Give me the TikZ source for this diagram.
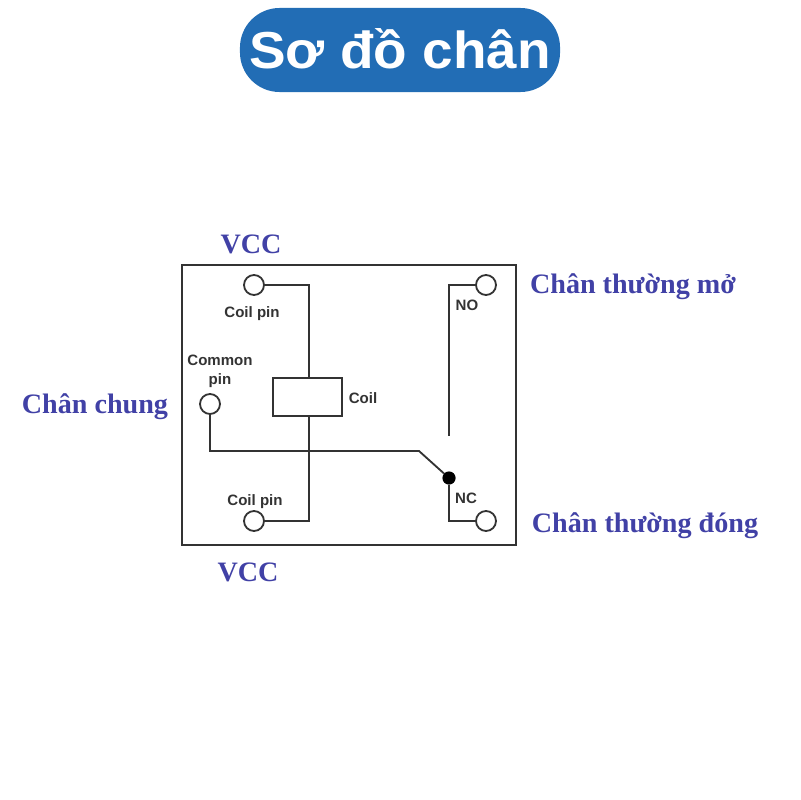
\documentclass[tikz,border=0pt]{standalone}
\usepackage{fontspec}
\usepackage{graphicx}
\setmainfont{Liberation Sans}
\newfontfamily\labelfont{Liberation Serif}
\usepackage{xcolor}
\usetikzlibrary{positioning}
\definecolor{titleblue}{HTML}{226DB5}
\definecolor{labelblue}{HTML}{4141A6}
\definecolor{wiregray}{HTML}{333333}

\begin{document}
\begin{tikzpicture}[x=.025cm,y=-.025cm,
  pin/.style={circle,draw=wiregray,fill=white,line width=1.3pt,minimum size=.5cm,inner sep=0pt},
  wire/.style={draw=wiregray,line width=1.3pt},
  small/.style={font=\fontsize{10.7}{13.5}\selectfont\bfseries,text=wiregray,align=center,inner sep=0pt},
  outer/.style={font=\labelfont\fontsize{20}{24}\selectfont\bfseries,text=labelblue,inner sep=0pt,anchor=base}]

  \useasboundingbox (0,0) rectangle (800,800);

  \node[fill=titleblue,rounded corners=.99cm,minimum width=8cm,minimum height=2.1cm,
    inner sep=0pt,text=white,text depth=2pt,font=\fontsize{37}{46}\selectfont\bfseries] (title) at (400,50) {\scalebox{1.055}[1]{Sơ đồ chân}};

  % frame
  \draw[wire] (182,265) rectangle (516,545);

  % pins
  \node[pin] (coil1) at (254,285) {};
  \node[pin] (coil2) at (254,521) {};
  \node[pin] (com) at (210,404) {};
  \node[pin] (no) at (486,285) {};
  \node[pin] (nc) at (486,521) {};

  % coil
  \node[draw=wiregray,line width=1.3pt,minimum width=1.725cm,minimum height=.95cm,inner sep=0pt] (coil) at (307.5,397) {};
  \coordinate (coiltop) at (309,378);
  \coordinate (coilbot) at (309,416);
  \draw[wire] (coil1) -- (309,285) -- (coiltop);
  \draw[wire] (coil2) -- (309,521) -- (coilbot);

  % switch
  \node[fill=black,circle,minimum size=.33cm,inner sep=0pt] (sw) at (449,478) {};
  \coordinate (noend) at (449,436);
  \draw[wire] (no) -- (449,285) -- (noend);
  \draw[wire] (com) -- (210,451) -- (419,451) -- (sw);
  \draw[wire] (sw) -- (449,521) -- (nc);

  % small labels
  \node[small] (coil1lab) at (252,314) {Coil pin};
  \node[small] (coil2lab) at (255,502) {Coil pin};
  \node[small] (comlab) at (220,371.5) {Common\\pin};
  \node[small] (coillab) at (363,398) {Coil};
  \node[small] (nolab) at (467,305) {NO};
  \node[small] (nclab) at (466,498) {NC};

  % outer labels
  \node[outer] (vcc1) at (251,253) {VCC};
  \node[outer] (vcc2) at (248,581) {VCC};
  \node[outer] (chung) at (95,413) {Chân chung};
  \node[outer] (thmo) at (633,293) {Chân thường mở};
  \node[outer] (thdong) at (645,532) {Chân thường đóng};

\end{tikzpicture}
\end{document}
